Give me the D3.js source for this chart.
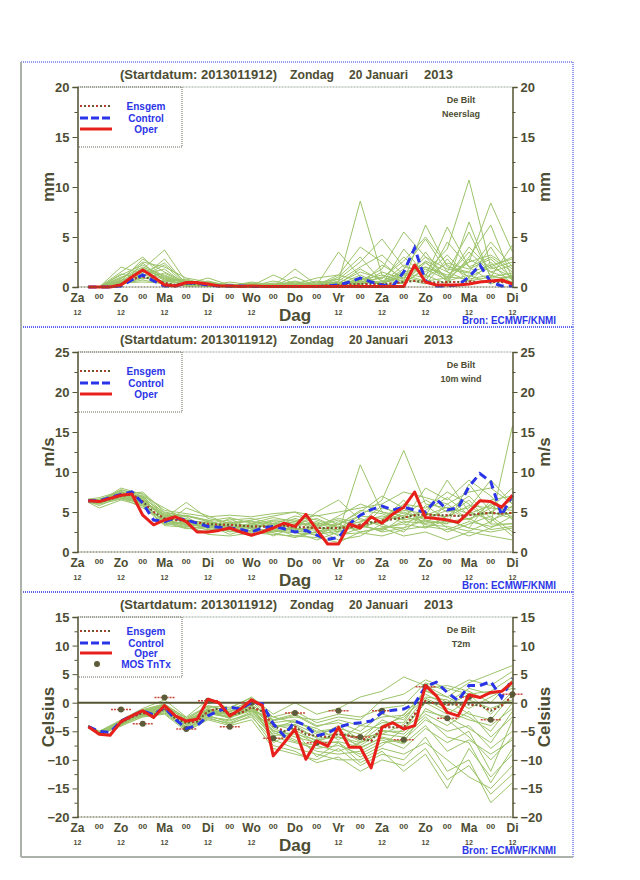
<!DOCTYPE html>
<html>
  <head>
    <meta charset="utf-8">
    <script src="https://d3js.org/d3.v7.min.js"></script>
    <style>
      body { margin: 0; background: #fff; }
      text { font-family: "Liberation Sans", Arial, sans-serif; font-weight: bold; }
    </style>
  </head>
  <body>
    <svg></svg>
    <script>
      // time steps (hours after 2013011912)
      const hours = d3.range(6, 241, 6)
      const memberHours = [6].concat(d3.range(12, 241, 12))
      const mosHours = d3.range(24, 241, 12)
      const dayLabels = ['Za', 'Zo', 'Ma', 'Di', 'Wo', 'Do', 'Vr', 'Za', 'Zo', 'Ma', 'Di']

      // Neerslag (mm)
      const operRR = [0, 0, 0, 0.2, 1.0, 1.7, 1.0, 0.2, 0.1, 0.45, 0.45, 0.3, 0.1, 0.1, 0.05, 0.1, 0.05, 0.05, 0.05, 0.05,
        0.05, 0.05, 0.05, 0.05, 0.05, 0.05, 0.05, 0.05, 0.05, 0.05, 2.2, 0.5, 0.2, 0.2, 0.2, 0.3, 0.5, 0.6, 0.7, 0.3]
      const controlRR = [0, 0, 0, 0.1, 0.7, 1.2, 0.6, 0.1, 0.1, 0.4, 0.4, 0.2, 0.1, 0.1, 0.1, 0.05, 0.05, 0.05, 0.05, 0.05,
        0.05, 0.05, 0.1, 0.2, 0.5, 0.9, 0.5, 0.2, 0.1, 1.5, 3.9, 0.6, 0.1, 0.1, 0.2, 1.0, 2.2, 0.5, 0.1, 0.1]
      const meanRR = [0, 0, 0, 0.3, 0.8, 1.0, 0.8, 0.4, 0.2, 0.3, 0.3, 0.2, 0.1, 0.1, 0.1, 0.1, 0.1, 0.1, 0.1, 0.1,
        0.1, 0.1, 0.15, 0.2, 0.25, 0.3, 0.3, 0.3, 0.35, 0.5, 0.6, 0.5, 0.45, 0.5, 0.5, 0.55, 0.5, 0.5, 0.5, 0.4]
      const membersRR = [
        [0, 0, 1.5, 3.0, 0.8, 0.6, 0.3, 0.1, 0.2, 0.3, 0.1, 0.2, 0.5, 8.6, 1.2, 0.5, 2.4, 1.0, 3.5, 1.5, 0.8],
        [0, 0, 0.8, 2.5, 2.0, 0.9, 0.5, 0.2, 0.1, 1.2, 0.3, 0.4, 0.8, 2.5, 4.8, 2.0, 1.5, 3.8, 10.7, 2.0, 1.0],
        [0, 0, 0.4, 1.8, 3.7, 0.5, 0.2, 0.1, 0.3, 0.1, 1.8, 0.2, 1.2, 0.6, 1.8, 5.5, 3.0, 0.8, 2.5, 8.4, 3.5],
        [0, 0, 1.2, 2.2, 1.0, 0.3, 0.9, 0.2, 0.1, 0.2, 0.3, 0.9, 1.2, 4.0, 2.5, 0.6, 6.2, 2.0, 1.5, 4.5, 2.0],
        [0, 0, 0.3, 1.0, 2.8, 0.2, 0.4, 0.1, 0.5, 0.2, 0.5, 0.2, 3.5, 1.0, 0.3, 1.8, 4.8, 1.5, 5.5, 1.0, 4.2],
        [0, 0, 2.0, 1.3, 0.5, 0.8, 0.2, 0.0, 0.2, 0.1, 0.1, 0.3, 0.4, 1.5, 0.8, 3.0, 1.0, 6.0, 2.0, 3.0, 1.5],
        [0, 0, 0.6, 2.8, 1.5, 0.4, 0.1, 0.3, 0.1, 0.6, 0.2, 0.1, 0.6, 2.0, 3.2, 1.2, 2.5, 0.5, 3.0, 6.2, 0.8],
        [0, 0, 0.2, 0.9, 0.6, 0.2, 0.6, 0.1, 0.1, 0.2, 0.1, 0.5, 0.2, 0.5, 0.9, 2.6, 5.0, 2.2, 1.0, 2.0, 3.0],
        [0, 0, 1.0, 1.5, 1.2, 0.3, 0.1, 0.5, 0.2, 0.1, 0.4, 0.1, 1.0, 3.0, 0.5, 1.0, 0.5, 4.5, 2.0, 0.6, 0.4],
        [0, 0, 0.4, 0.5, 0.4, 0.1, 0.2, 0.1, 0.0, 0.1, 0.1, 0.2, 0.3, 0.4, 1.0, 0.3, 2.0, 1.0, 0.8, 1.2, 0.5],
        [0, 0, 0.1, 1.8, 0.9, 0.5, 0.1, 0.1, 0.3, 0.1, 0.2, 0.1, 0.1, 0.6, 0.3, 1.2, 0.6, 0.9, 4.0, 1.8, 2.5],
        [0, 0, 0.7, 1.1, 2.2, 0.2, 0.3, 0.0, 0.1, 0.2, 0.1, 0.1, 0.2, 1.2, 0.2, 0.4, 3.5, 0.6, 1.2, 0.3, 1.2],
        [0, 0, 0.3, 0.7, 0.3, 0.1, 0.1, 0.0, 0.1, 0.0, 0.1, 0.1, 0.1, 0.3, 1.5, 0.8, 0.3, 2.8, 0.5, 2.5, 0.2],
        [0, 0, 0.5, 1.6, 0.7, 0.3, 0.2, 0.1, 0.4, 0.1, 1.0, 0.1, 0.3, 0.8, 0.2, 3.8, 1.2, 0.3, 6.5, 0.9, 1.0],
        [0, 0, 0.9, 2.0, 1.1, 0.4, 0.3, 0.2, 0.1, 0.4, 0.2, 0.6, 0.3, 1.8, 0.6, 1.5, 2.0, 1.2, 2.5, 3.2, 1.8],
        [0, 0, 0.5, 1.2, 1.8, 0.2, 0.1, 0.1, 0.2, 0.1, 0.3, 0.1, 0.8, 0.2, 2.2, 0.9, 3.0, 1.8, 1.4, 2.2, 2.8],
        [0, 0, 0.2, 2.4, 0.6, 0.7, 0.2, 0.0, 0.1, 0.3, 0.1, 0.2, 0.1, 0.9, 0.4, 2.2, 1.2, 3.2, 0.9, 4.0, 0.6],
        [0, 0, 1.3, 0.8, 1.4, 0.3, 0.5, 0.1, 0.0, 0.1, 0.6, 0.1, 0.5, 0.3, 0.6, 0.4, 1.8, 0.7, 2.8, 1.5, 2.2],
        [0, 0, 0.6, 1.9, 0.8, 0.2, 0.1, 0.1, 0.3, 0.2, 0.1, 0.3, 0.2, 0.7, 1.2, 0.6, 2.6, 1.5, 0.6, 1.0, 1.4],
        [0, 0, 0.4, 1.4, 2.4, 0.4, 0.2, 0.2, 0.1, 0.1, 0.2, 0.1, 0.4, 0.5, 0.3, 1.4, 0.9, 2.4, 1.8, 2.8, 0.9]
      ]

      // 10m wind (m/s)
      const operFF = [6.4, 6.3, 6.7, 7.1, 7.25, 4.6, 3.4, 4.0, 4.4, 3.8, 2.5, 2.5, 2.7, 3.0, 2.5, 2.1, 2.5, 3.0, 3.6, 3.2,
        4.7, 2.8, 1.0, 1.0, 3.5, 3.0, 4.4, 3.6, 4.75, 5.6, 7.5, 4.3, 4.2, 4.0, 3.7, 5.0, 6.4, 6.3, 5.6, 7.1]
      const controlFF = [6.4, 6.4, 6.8, 7.2, 7.5, 6.1, 4.0, 3.8, 4.25, 4.0, 3.6, 3.2, 3.1, 3.0, 2.8, 2.5, 3.0, 3.2, 2.9, 2.5,
        2.7, 2.1, 1.6, 1.8, 3.5, 4.6, 5.3, 5.75, 5.25, 5.6, 5.25, 5.0, 6.6, 5.25, 5.5, 8.2, 9.8, 8.8, 4.6, 7.1]
      const meanFF = [6.4, 6.3, 6.6, 7.0, 7.2, 6.3, 5.0, 4.2, 4.0, 3.9, 3.7, 3.5, 3.4, 3.4, 3.3, 3.2, 3.2, 3.2, 3.3, 3.1,
        3.1, 3.0, 3.0, 3.0, 3.1, 3.4, 3.7, 3.9, 4.1, 4.3, 4.6, 4.7, 4.6, 4.6, 4.5, 4.6, 4.8, 4.9, 4.8, 4.9]
      const membersFF = [
        [6.3, 6.0, 7.2, 7.5, 5.0, 4.5, 3.8, 3.0, 3.6, 2.8, 3.5, 4.2, 3.0, 4.5, 6.5, 12.7, 6.0, 5.5, 4.0, 6.0, 5.5],
        [6.5, 6.6, 7.5, 6.8, 4.0, 3.5, 3.0, 4.2, 2.8, 3.6, 2.5, 1.5, 2.5, 10.9, 5.0, 4.0, 8.0, 6.5, 9.0, 7.0, 4.0],
        [6.2, 5.5, 6.5, 5.8, 3.5, 5.5, 4.5, 3.5, 4.0, 4.5, 5.0, 3.5, 2.0, 3.0, 4.0, 6.0, 5.5, 7.5, 6.0, 3.5, 15.8],
        [6.4, 6.2, 7.8, 7.0, 5.5, 4.0, 3.2, 3.8, 3.0, 2.5, 3.0, 5.0, 6.5, 4.0, 3.5, 5.0, 4.0, 3.5, 8.5, 5.0, 6.5],
        [6.6, 6.5, 6.8, 5.5, 4.0, 3.0, 2.5, 2.8, 2.0, 3.0, 2.0, 2.5, 3.5, 2.5, 3.0, 3.5, 3.0, 4.0, 3.0, 2.5, 3.0],
        [6.3, 6.4, 7.3, 6.5, 4.5, 4.5, 4.0, 3.0, 3.5, 4.0, 4.0, 3.0, 4.5, 6.0, 5.0, 4.5, 6.5, 5.0, 5.5, 9.0, 6.0],
        [6.5, 6.1, 7.0, 6.0, 3.8, 3.5, 3.5, 2.5, 3.2, 2.0, 3.2, 3.8, 2.5, 3.5, 2.5, 3.0, 4.0, 2.5, 3.5, 4.5, 2.5],
        [6.4, 6.3, 8.0, 7.2, 4.8, 4.0, 3.6, 4.0, 4.2, 3.5, 3.0, 2.0, 3.5, 5.0, 7.0, 5.5, 3.5, 6.0, 4.0, 5.5, 8.0],
        [6.2, 6.0, 6.6, 6.2, 3.6, 3.2, 2.8, 3.2, 2.5, 3.0, 3.8, 2.8, 1.5, 2.0, 3.5, 2.5, 5.0, 3.0, 2.0, 3.0, 4.5],
        [6.6, 6.8, 7.6, 6.6, 4.2, 6.2, 4.2, 3.6, 3.8, 3.4, 4.5, 4.0, 3.0, 3.8, 4.5, 4.0, 4.5, 9.0, 5.0, 4.0, 5.0],
        [6.3, 5.8, 6.9, 5.9, 3.4, 3.8, 3.4, 2.2, 3.0, 3.8, 2.8, 3.2, 4.0, 3.0, 4.0, 6.5, 3.0, 4.5, 6.5, 3.5, 3.5],
        [6.5, 6.4, 7.4, 6.9, 4.6, 3.6, 3.0, 3.4, 2.6, 2.4, 1.8, 2.6, 2.8, 4.2, 3.2, 3.0, 5.8, 4.0, 3.0, 6.5, 7.0],
        [6.4, 6.2, 7.1, 6.4, 4.4, 4.2, 2.6, 2.8, 3.4, 3.2, 3.4, 3.6, 3.2, 2.8, 5.5, 4.8, 4.2, 5.2, 7.0, 4.2, 2.0],
        [6.3, 6.3, 7.2, 6.1, 3.9, 3.3, 3.8, 3.3, 2.9, 2.7, 2.6, 2.4, 3.8, 3.2, 2.8, 3.8, 3.6, 3.8, 4.2, 5.0, 4.2],
        [6.5, 6.2, 7.0, 6.7, 4.1, 3.4, 2.2, 2.0, 2.4, 2.2, 2.0, 1.8, 1.2, 2.5, 3.0, 2.0, 2.5, 1.5, 2.5, 2.0, 1.5],
        [6.3, 6.5, 7.7, 7.3, 5.2, 4.8, 4.4, 4.6, 4.4, 4.8, 5.0, 4.5, 5.0, 5.5, 6.0, 7.5, 6.8, 6.0, 7.5, 8.0, 6.0],
        [6.4, 6.1, 6.9, 6.3, 4.3, 3.7, 3.3, 3.1, 3.3, 3.9, 3.6, 3.3, 3.5, 4.5, 4.2, 5.2, 4.8, 4.4, 5.8, 5.5, 5.2],
        [6.2, 6.4, 7.2, 6.7, 4.9, 4.4, 2.9, 2.6, 2.7, 2.9, 3.0, 2.7, 2.2, 2.4, 2.0, 2.8, 3.2, 2.8, 3.8, 3.2, 3.6],
        [6.5, 6.3, 7.3, 6.2, 3.7, 2.9, 3.2, 3.7, 3.9, 3.0, 4.2, 3.4, 4.2, 3.6, 5.8, 4.2, 5.2, 6.8, 4.6, 4.8, 4.8],
        [6.3, 6.2, 6.7, 6.4, 4.7, 3.9, 3.7, 2.9, 2.3, 2.6, 2.4, 2.2, 2.6, 3.2, 3.8, 4.6, 3.4, 3.2, 2.6, 3.8, 5.8],
        [6.4, 6.6, 7.4, 7.0, 4.5, 4.6, 3.9, 4.3, 3.6, 4.3, 3.8, 4.6, 3.4, 5.2, 4.8, 3.6, 4.6, 5.6, 4.8, 5.8, 4.4],
        [6.6, 6.3, 7.1, 5.7, 3.3, 3.1, 3.5, 3.5, 3.1, 3.3, 2.7, 3.0, 2.8, 3.4, 2.6, 4.4, 3.8, 3.6, 4.2, 2.8, 3.2]
      ]

      // T2m (Celsius)
      const operT2 = [-4.2, -5.5, -5.7, -3.3, -2.3, -1.4, -2.6, -0.5, -2.3, -3.2, -2.9, 0.6, 0.0, -2.3, -1.1, 0.5, -0.5, -9.3, -7.0, -4.6,
        -9.9, -6.7, -7.6, -4.3, -7.8, -7.8, -11.4, -4.3, -3.5, -4.6, -4.0, 3.0, 1.2, -1.7, -2.3, 1.4, 0.9, 1.8, 2.0, 3.6]
      const controlT2 = [-4.2, -5.0, -5.2, -3.2, -2.3, -1.4, -2.1, -0.8, -2.9, -4.5, -4.0, -2.3, -1.4, -0.8, -1.1, 0.05, -0.2, -3.7, -5.8, -3.2,
        -4.0, -5.8, -5.3, -4.3, -3.7, -3.5, -3.2, -1.7, -1.3, -1.1, -0.2, 2.8, 3.6, 1.8, 0.35, 3.0, 3.0, 3.7, 0.9, 4.3]
      const meanT2 = [-4.2, -5.3, -5.6, -3.5, -2.5, -1.8, -2.2, -1.0, -2.8, -3.5, -3.3, -1.5, -1.0, -2.0, -1.8, -0.8, -1.5, -4.0, -5.0, -4.2,
        -5.5, -5.8, -6.0, -5.5, -5.8, -6.2, -6.7, -4.3, -4.3, -4.3, -2.0, 0.3, -0.2, -0.3, -0.3, -0.3, -0.5, -1.4, -0.5, 1.2]
      const mosT2 = [-1.2, -3.7, 0.9, -4.6, 0.35, -4.2, 0.0, -6.2, -1.8, -7.0, -1.4, -6.0, -1.4, -6.5, 2.8, -2.7, 1.0, -3.0, 1.5]
      const membersT2 = [
        [-4.0, -5.0, -3.0, -1.0, 0.5, -2.5, 0.5, -1.0, 1.0, -2.0, 0.0, -2.0, -1.0, 1.0, 2.0, 4.5, 3.0, 1.0, 3.5, 5.0, 6.5],
        [-4.3, -5.5, -4.0, -2.5, -2.0, -5.0, -3.0, -4.0, -3.0, -8.0, -9.0, -10.0, -8.0, -11.0, -9.0, -10.0, -6.0, -12.0, -10.0, -17.5, -14.0],
        [-4.1, -5.2, -3.2, -1.5, -0.5, -3.0, -0.5, -1.5, 0.5, -3.0, -2.0, -4.0, -3.5, -5.0, -2.0, -3.0, 2.0, 1.0, -1.0, 1.0, 3.0],
        [-4.2, -5.6, -3.8, -2.2, -1.5, -4.5, -2.5, -3.0, -2.0, -6.0, -7.0, -8.0, -7.5, -9.0, -7.0, -6.5, -3.0, -5.0, -4.0, -8.0, -5.0],
        [-4.4, -5.4, -3.6, -2.0, -1.2, -3.8, -1.8, -2.5, -1.0, -5.0, -5.5, -6.5, -6.0, -7.5, -5.0, -5.0, 0.5, -1.5, -3.0, -4.0, -1.0],
        [-4.0, -5.1, -3.3, -1.2, -0.2, -2.8, -0.8, -1.2, 0.2, -3.5, -3.0, -5.0, -4.5, -5.5, -3.5, -3.5, 2.5, 3.0, 2.0, 0.0, 4.0],
        [-4.2, -5.3, -3.4, -1.8, -1.0, -3.5, -1.5, -2.0, -0.5, -4.5, -6.0, -7.0, -5.0, -8.0, -6.0, -7.0, -1.0, -3.0, -6.0, -10.0, -6.0],
        [-4.3, -5.2, -3.7, -1.6, -0.8, -4.0, -2.0, -1.8, -1.5, -2.5, -3.5, -4.5, -6.5, -4.0, -4.5, -2.0, 1.5, -0.5, 1.5, -2.0, 2.0],
        [-4.1, -5.4, -3.1, -2.3, -1.8, -3.2, -1.2, -2.8, -0.2, -7.0, -5.0, -9.5, -7.0, -10.5, -8.5, -12.0, -9.0, -15.0, -8.0, -13.0, -9.0],
        [-4.2, -5.3, -3.5, -1.4, -0.6, -3.6, -1.0, -2.2, -1.2, -3.0, -2.5, -3.0, -2.0, -2.5, -1.0, -0.5, 3.5, 2.0, 4.0, 3.0, 5.5],
        [-4.3, -5.6, -3.9, -2.0, -1.4, -4.2, -2.2, -3.5, -1.8, -5.5, -4.5, -6.0, -4.0, -6.5, -3.0, -4.5, 0.0, -2.0, 0.5, -1.0, 0.5],
        [-4.1, -5.0, -3.3, -1.7, -0.4, -3.0, -1.4, -1.5, -0.6, -4.0, -3.8, -5.5, -5.5, -6.0, -5.5, -3.8, 1.0, 0.5, -2.0, -3.0, 1.5],
        [-4.2, -5.2, -3.5, -1.9, -1.1, -3.4, -1.6, -2.1, -0.9, -4.2, -4.0, -6.2, -6.0, -7.0, -4.8, -5.5, -2.0, -4.0, -1.5, -6.0, -2.5],
        [-4.2, -5.5, -3.6, -1.5, -0.7, -3.9, -1.7, -2.4, -1.3, -4.8, -6.5, -8.5, -9.0, -8.5, -6.5, -8.0, -4.5, -7.0, -5.0, -12.0, -3.0],
        [-4.2, -5.4, -3.7, -2.2, -1.6, -4.8, -2.8, -3.6, -2.5, -6.5, -8.0, -9.0, -10.0, -10.0, -8.0, -9.0, -7.0, -10.0, -13.0, -15.0, -11.0],
        [-4.1, -5.1, -3.2, -1.3, -0.3, -2.6, -0.6, -0.8, 0.8, -2.5, -1.5, -3.5, -2.5, -3.0, 0.5, 1.5, 4.0, 2.5, 1.5, 2.0, 4.5],
        [-4.3, -5.5, -3.8, -2.1, -1.3, -4.4, -2.4, -3.2, -1.6, -5.2, -6.8, -7.5, -8.5, -7.0, -5.5, -6.0, -2.5, -6.0, -7.0, -14.0, -8.0],
        [-4.2, -5.3, -3.4, -1.7, -0.9, -3.3, -1.3, -1.9, -0.7, -3.8, -4.8, -6.8, -7.0, -9.5, -7.5, -4.5, -1.5, -2.5, -4.5, -7.0, -1.5],
        [-4.0, -5.2, -3.3, -1.6, -0.7, -3.7, -1.9, -2.6, -1.4, -4.4, -3.2, -5.2, -4.8, -6.8, -4.0, -2.5, 0.8, -1.0, -2.5, -5.0, 0.0],
        [-4.4, -5.6, -4.1, -2.4, -1.9, -4.6, -2.6, -3.8, -2.2, -7.5, -8.5, -10.5, -9.5, -12.0, -10.0, -11.0, -8.0, -13.5, -11.0, -16.0, -12.5],
        [-4.1, -5.2, -3.2, -1.4, -0.4, -3.1, -1.1, -1.6, -0.3, -3.2, -2.2, -4.2, -3.0, -4.0, -2.5, -2.2, 2.2, 0.0, 2.5, 1.5, 2.5],
        [-4.3, -5.4, -3.6, -1.9, -1.2, -3.7, -1.7, -2.6, -1.0, -5.8, -5.2, -7.2, -6.8, -7.8, -6.2, -7.2, -4.0, -8.5, -6.5, -9.0, -6.5]
      ]

      const panels = [
        {top: 87, domain: [0, 20], ticks: [0, 5, 10, 15, 20], unit: 'mm', param: 'Neerslag',
          oper: operRR, control: controlRR, mean: meanRR, members: membersRR},
        {top: 352, domain: [0, 25], ticks: [0, 5, 10, 15, 20, 25], unit: 'm/s', param: '10m wind',
          oper: operFF, control: controlFF, mean: meanFF, members: membersFF},
        {top: 617, domain: [-20, 15], ticks: [-20, -15, -10, -5, 0, 5, 10, 15], unit: 'Celsius', param: 'T2m',
          oper: operT2, control: controlT2, mean: meanT2, members: membersT2, mos: mosT2}
      ]

      const width = 640
      const height = 880
      const plotH = 200
      const textColor = '#4d4d33'
      const blue = '#2b35e8'
      const red = '#e8201c'
      const green = '#9cc46a'

      const svg = d3.select('svg').attr('width', width).attr('height', height)

      const x = d3.scaleLinear().domain([0, 240]).range([77.5, 512.5])

      panels.forEach((p, i) => {
        const y = d3.scaleLinear().domain(p.domain).range([p.top + plotH, p.top])
        const g = svg.append('g')
        const boxTop = p.top - 25

        // outer box
        g.append('rect')
          .attr('x', 21).attr('y', boxTop)
          .attr('width', 552).attr('height', 265)
          .attr('fill', 'none')
          .attr('stroke', blue)
          .attr('stroke-width', 1)
          .attr('stroke-dasharray', '1,1')

        // title
        const ty = p.top - 8
        const titleParts = [
          {t: '(Startdatum: 2013011912)', x: 120, w: 157},
          {t: 'Zondag', x: 290, w: 44},
          {t: '20 Januari', x: 349, w: 59},
          {t: '2013', x: 424, w: 29}
        ]
        g.selectAll('.title')
          .data(titleParts)
          .enter()
          .append('text')
            .attr('x', d => d.x)
            .attr('y', ty)
            .attr('textLength', d => d.w)
            .attr('lengthAdjust', 'spacingAndGlyphs')
            .attr('font-size', 12)
            .attr('fill', textColor)
            .text(d => d.t)

        // plot frame top (dotted gray)
        g.append('line')
          .attr('x1', x(0)).attr('x2', x(240))
          .attr('y1', p.top).attr('y2', p.top)
          .attr('stroke', '#9aa89a').attr('stroke-dasharray', '2,1')

        // ensemble members
        const memberLine = d3.line()
          .x((d, j) => x(memberHours[j]))
          .y(d => y(d))
        g.selectAll('.member')
          .data(p.members)
          .enter()
          .append('path')
            .attr('d', memberLine)
            .attr('fill', 'none')
            .attr('stroke', green)
            .attr('stroke-width', 1)

        // zero line for temperature
        if (p.domain[0] < 0) {
          g.append('line')
            .attr('x1', x(0)).attr('x2', x(240))
            .attr('y1', y(0)).attr('y2', y(0))
            .attr('stroke', '#555533').attr('stroke-width', 2)
        }

        const line = d3.line()
          .x((d, j) => x(hours[j]))
          .y(d => y(d))

        // ensemble mean: dotted dark with red dots
        g.append('path')
          .attr('d', line(p.mean))
          .attr('fill', 'none')
          .attr('stroke', '#5c5c30')
          .attr('stroke-width', 2)
          .attr('stroke-dasharray', '2,2')
        g.append('path')
          .attr('d', line(p.mean))
          .attr('fill', 'none')
          .attr('stroke', '#c03a2a')
          .attr('stroke-width', 2)
          .attr('stroke-dasharray', '2,6')

        // MOS TnTx
        if (p.mos) {
          const mg = g.selectAll('.mos')
            .data(p.mos)
            .enter()
            .append('g')
          mg.append('line')
            .attr('x1', (d, j) => x(mosHours[j]) - 10)
            .attr('x2', (d, j) => x(mosHours[j]) + 10)
            .attr('y1', d => y(d)).attr('y2', d => y(d))
            .attr('stroke', '#c84a3a').attr('stroke-width', 1.5)
            .attr('stroke-dasharray', '2,1')
          mg.append('circle')
            .attr('cx', (d, j) => x(mosHours[j]))
            .attr('cy', d => y(d))
            .attr('r', 3)
            .attr('fill', '#5c5c3a')
        }

        // control
        g.append('path')
          .attr('d', line(p.control))
          .attr('fill', 'none')
          .attr('stroke', blue)
          .attr('stroke-width', 3)
          .attr('stroke-dasharray', '8,5')

        // oper
        g.append('path')
          .attr('d', line(p.oper))
          .attr('fill', 'none')
          .attr('stroke', red)
          .attr('stroke-width', 3)
          .attr('stroke-linejoin', 'round')

        // bottom axis line
        g.append('line')
          .attr('x1', x(0)).attr('x2', x(240))
          .attr('y1', p.top + plotH).attr('y2', p.top + plotH)
          .attr('stroke', '#555533').attr('stroke-dasharray', '2,1')

        // left and right axes
        const minorTicks = p.ticks.slice(1).map(t => t - 2.5)
        const leftAxis = d3.axisLeft(y).tickValues(p.ticks).tickSize(5).tickFormat(d3.format('d'))
        const rightAxis = d3.axisRight(y).tickValues(p.ticks).tickSize(5).tickFormat(d3.format('d'))
        ;[
          {axis: leftAxis, xp: x(0), minor: d3.axisLeft(y)},
          {axis: rightAxis, xp: x(240), minor: d3.axisRight(y)}
        ].forEach(a => {
          const ag = g.append('g')
            .attr('transform', `translate(${a.xp},0)`)
            .call(a.axis)
          ag.select('.domain').attr('stroke', '#555533').attr('stroke-width', 1.5)
          ag.selectAll('.tick line').attr('stroke', '#555533')
          ag.selectAll('.tick text')
            .attr('font-size', 13)
            .attr('font-family', '"Liberation Sans", Arial, sans-serif')
            .attr('font-weight', 'bold')
            .attr('fill', textColor)
            .attr('dy', '0.35em')
          g.append('g')
            .attr('transform', `translate(${a.xp},0)`)
            .call(a.minor.tickValues(minorTicks).tickSize(3).tickFormat(''))
            .call(s => s.select('.domain').remove())
            .selectAll('.tick line').attr('stroke', '#555533')
        })

        // axis titles
        ;[48, 544].forEach(xp => {
          g.append('text')
            .attr('transform', `translate(${xp},${p.top + plotH / 2}) rotate(-90)`)
            .attr('text-anchor', 'middle')
            .attr('dy', '0.35em')
            .attr('font-size', 17)
            .attr('fill', textColor)
            .text(p.unit)
        })

        // station / parameter
        g.append('text')
          .attr('x', 461).attr('y', p.top + 16)
          .attr('text-anchor', 'middle')
          .attr('font-size', 9).attr('font-weight', 'normal')
          .attr('fill', textColor)
          .text('De Bilt')
        g.append('text')
          .attr('x', 461).attr('y', p.top + 30)
          .attr('text-anchor', 'middle')
          .attr('font-size', 9).attr('font-weight', 'normal')
          .attr('fill', textColor)
          .text(p.param)

        // day labels
        const by = p.top + plotH + 15
        g.selectAll('.day')
          .data(dayLabels)
          .enter()
          .append('text')
            .attr('x', (d, j) => x(j * 24))
            .attr('y', by)
            .attr('text-anchor', 'middle')
            .attr('font-size', 12)
            .attr('fill', textColor)
            .text(d => d)
        // "12" under each day, except where the axis title "Dag" sits
        g.selectAll('.hr12')
          .data(dayLabels.map((d, j) => j).filter(j => j !== 5))
          .enter()
          .append('text')
            .attr('x', j => x(j * 24))
            .attr('y', by + 13)
            .attr('text-anchor', 'middle')
            .attr('font-size', 7).attr('font-weight', 'normal')
            .attr('fill', textColor)
            .text('12')
        g.selectAll('.hr00')
          .data(dayLabels.slice(1))
          .enter()
          .append('text')
            .attr('x', (d, j) => x(j * 24 + 12))
            .attr('y', by - 3)
            .attr('text-anchor', 'middle')
            .attr('font-size', 8).attr('font-weight', 'normal')
            .attr('fill', textColor)
            .text('00')

        g.append('text')
          .attr('x', 295).attr('y', by + 19)
          .attr('text-anchor', 'middle')
          .attr('font-size', 17).attr('font-weight', 'normal')
          .attr('fill', textColor)
          .text('Dag')

        g.append('text')
          .attr('x', 462).attr('y', by + 22)
          .attr('textLength', 94).attr('lengthAdjust', 'spacingAndGlyphs')
          .attr('font-size', 10)
          .attr('fill', blue)
          .text('Bron: ECMWF/KNMI')

        // legend
        const entries = [
          {name: 'Ensgem', type: 'mean'},
          {name: 'Control', type: 'control'},
          {name: 'Oper', type: 'oper'}
        ]
        if (p.mos) entries.push({name: 'MOS TnTx', type: 'mos'})
        const ly = p.mos ? [14, 26, 36, 47] : [19, 31, 42]
        g.append('rect')
          .attr('x', 78).attr('y', p.top)
          .attr('width', 104).attr('height', 60)
          .attr('fill', 'none')
          .attr('stroke', '#6a6a5a').attr('stroke-dasharray', '1,1')
        entries.forEach((e, j) => {
          const yy = p.top + ly[j]
          if (e.type === 'mean') {
            g.append('line').attr('x1', 80).attr('x2', 112).attr('y1', yy).attr('y2', yy)
              .attr('stroke', '#5c5c30').attr('stroke-width', 2).attr('stroke-dasharray', '2,2')
            g.append('line').attr('x1', 80).attr('x2', 112).attr('y1', yy).attr('y2', yy)
              .attr('stroke', '#c03a2a').attr('stroke-width', 2).attr('stroke-dasharray', '2,6')
          } else if (e.type === 'control') {
            g.append('line').attr('x1', 80).attr('x2', 112).attr('y1', yy).attr('y2', yy)
              .attr('stroke', blue).attr('stroke-width', 3).attr('stroke-dasharray', '8,3')
          } else if (e.type === 'oper') {
            g.append('line').attr('x1', 80).attr('x2', 112).attr('y1', yy).attr('y2', yy)
              .attr('stroke', red).attr('stroke-width', 3)
          } else {
            g.append('circle').attr('cx', 97).attr('cy', yy).attr('r', 3).attr('fill', '#5c5c3a')
          }
          g.append('text')
            .attr('x', 146).attr('y', yy + 4)
            .attr('text-anchor', 'middle')
            .attr('font-size', 10)
            .attr('fill', blue)
            .text(e.name)
        })
      })

      // gray left and bottom edges of the whole frame
      svg.append('line')
        .attr('x1', 21).attr('x2', 21).attr('y1', 62).attr('y2', 857)
        .attr('stroke', '#aab2aa').attr('stroke-width', 2)
      svg.append('line')
        .attr('x1', 21).attr('x2', 573).attr('y1', 857).attr('y2', 857)
        .attr('stroke', '#aab2aa').attr('stroke-width', 2)
    </script>
  </body>
</html>
